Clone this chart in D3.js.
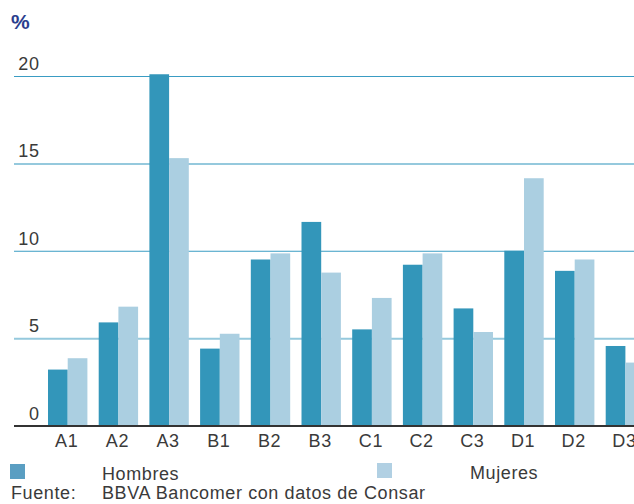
<!DOCTYPE html>
<html>
<head>
<meta charset="utf-8">
<script src="https://cdn.jsdelivr.net/npm/d3@7"></script>
<style>
  html, body { margin: 0; padding: 0; background: #fff; overflow: hidden; }
  svg { display: block; }
  text { font-family: "Liberation Sans", Arial, sans-serif; fill: #3a3a3a; }
</style>
</head>
<body>
<svg id="chart" width="634" height="504"></svg>
<script>
const categories = ["A1","A2","A3","B1","B2","B3","C1","C2","C3","D1","D2","D3"];
const hombres = [3.2, 5.9, 20.1, 4.4, 9.5, 11.65, 5.5, 9.2, 6.7, 10.0, 8.85, 4.55];
const mujeres = [3.85, 6.8, 15.3, 5.25, 9.85, 8.75, 7.3, 9.85, 5.35, 14.15, 9.5, 3.6];
const seriesNames = ["Hombres", "Mujeres"];
const yTicks = [0, 5, 10, 15, 20];
const unitLabel = "%";
const sourceLabel = "Fuente:";
const sourceText = "BBVA Bancomer con datos de Consar";

const W = 634, H = 504;
const barColors = ["#3396ba", "#abcfe1"];
const legendColors = ["#5a9ec2", "#b1d0e3"];
const gridColors = { 0: "#333333", 5: "#95c9dd", 10: "#3a9cc3", 15: "#95c9dd", 20: "#3a9cc3" };
const gridWidths = { 0: 2, 5: 2, 10: 1.2, 15: 2, 20: 1.2 };
const LS = "0.6px";
const FONT = '"Liberation Sans", Arial, sans-serif';

const svg = d3.select("#chart");

const x = d3.scaleBand().domain(categories).range([42.35, 650.75])
  .paddingInner(0.223).paddingOuter(0.1115);
const xs = d3.scaleBand().domain(seriesNames).range([0, x.bandwidth()]);
const y = d3.scaleLinear().domain([0, 20]).range([425.5, 76]);

function styleYAxis(g) {
  g.select(".domain").remove();
  g.selectAll(".tick line")
    .attr("stroke", d => gridColors[d])
    .attr("stroke-width", d => gridWidths[d]);
  g.selectAll(".tick text")
    .attr("x", 25.5).attr("dy", -6.5)
    .attr("text-anchor", "end")
    .attr("font-size", 18)
    .style("font-family", FONT)
    .style("letter-spacing", LS)
    .attr("fill", "#3a3a3a");
}

// gridlines (non-zero) behind bars
const gGrid = svg.append("g").attr("transform", "translate(14,0)")
  .call(d3.axisRight(y).tickValues(yTicks.filter(t => t !== 0)).tickSize(W - 14).tickFormat(d3.format("d")));
styleYAxis(gGrid);

// bars
const data = categories.map((c, i) => ({ c, vals: [hombres[i], mujeres[i]] }));
const groups = svg.append("g").selectAll("g").data(data).join("g")
  .attr("transform", d => `translate(${x(d.c)},0)`);
groups.selectAll("rect").data(d => d.vals.map((v, k) => ({ v, s: seriesNames[k], k })))
  .join("rect")
  .attr("x", d => xs(d.s))
  .attr("width", xs.bandwidth())
  .attr("y", d => y(d.v))
  .attr("height", d => y(0) - y(d.v))
  .attr("fill", d => barColors[d.k]);

// zero baseline on top
const gZero = svg.append("g").attr("transform", "translate(14,0)")
  .call(d3.axisRight(y).tickValues([0]).tickSize(W - 14).tickFormat(d3.format("d")));
styleYAxis(gZero);

// x axis labels
const gx = svg.append("g").attr("transform", "translate(-1,0)")
  .call(d3.axisBottom(x).tickSize(0));
gx.select(".domain").remove();
gx.selectAll(".tick text")
  .attr("y", 447).attr("dy", 0)
  .attr("font-size", 18)
  .style("font-family", FONT)
  .style("letter-spacing", LS)
  .attr("fill", "#3a3a3a");

// unit label
svg.append("text").attr("x", 11).attr("y", 29).text(unitLabel)
  .attr("font-size", 21).attr("font-weight", "bold")
  .style("fill", "#2b3e8e");

// legend
const legendPos = [{ sx: 10, tx: 102, sy: 464, ty: 480 }, { sx: 377, tx: 470, sy: 463, ty: 479 }];
seriesNames.forEach((s, k) => {
  const L = legendPos[k];
  svg.append("rect").attr("x", L.sx).attr("y", L.sy).attr("width", 15).attr("height", 15)
    .attr("fill", legendColors[k]);
  svg.append("text").attr("x", L.tx).attr("y", L.ty).attr("font-size", 18)
    .style("letter-spacing", LS).text(s);
});

// source
svg.append("text").attr("x", 11).attr("y", 499).attr("font-size", 18)
  .style("letter-spacing", LS).text(sourceLabel);
svg.append("text").attr("x", 102).attr("y", 499).attr("font-size", 18)
  .style("letter-spacing", LS).text(sourceText);
</script>
</body>
</html>
